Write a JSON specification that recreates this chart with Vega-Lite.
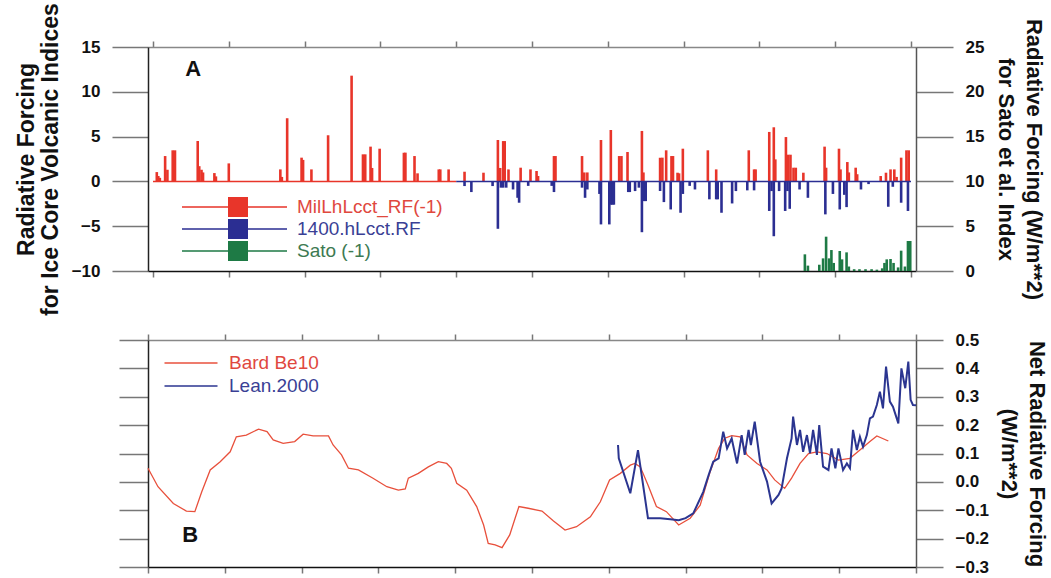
{
  "$schema": "https://vega.github.io/schema/vega-lite/v6.json",
  "autosize": "none",
  "padding": {"left": 148, "top": 47, "right": 903, "bottom": 531},
  "background": "white",
  "bounds": "flush",
  "spacing": 69,
  "config": {
    "font": "Liberation Sans",
    "view": {"stroke": null},
    "axis": {
      "grid": false,
      "labelFont": "Liberation Sans",
      "labelFontSize": 17,
      "labelFontWeight": "bold",
      "labelColor": "#111",
      "titleFont": "Liberation Sans",
      "titleFontSize": 22,
      "titleFontWeight": "bold",
      "titleColor": "#111",
      "tickColor": "#777",
      "domainColor": "#222",
      "tickWidth": 1.5,
      "domainWidth": 1.5
    }
  },
  "resolve": {"scale": {"color": "independent"}},
  "vconcat": [
    {
      "width": 768,
      "height": 224,
      "layer": [
        {
          "data": {
            "values": [
              {"year": 1005, "value": 1.04, "series": "MilLhLcct_RF(-1)"},
              {"year": 1007, "value": 0.6, "series": "MilLhLcct_RF(-1)"},
              {"year": 1009, "value": 0.4, "series": "MilLhLcct_RF(-1)"},
              {"year": 1016, "value": 2.83, "series": "MilLhLcct_RF(-1)"},
              {"year": 1019, "value": 1.3, "series": "MilLhLcct_RF(-1)"},
              {"year": 1026, "value": 3.47, "series": "MilLhLcct_RF(-1)"},
              {"year": 1029, "value": 3.47, "series": "MilLhLcct_RF(-1)"},
              {"year": 1059, "value": 4.51, "series": "MilLhLcct_RF(-1)"},
              {"year": 1061, "value": 1.7, "series": "MilLhLcct_RF(-1)"},
              {"year": 1064, "value": 1.3, "series": "MilLhLcct_RF(-1)"},
              {"year": 1066, "value": 1.0, "series": "MilLhLcct_RF(-1)"},
              {"year": 1081, "value": 0.93, "series": "MilLhLcct_RF(-1)"},
              {"year": 1083, "value": 0.56, "series": "MilLhLcct_RF(-1)"},
              {"year": 1100, "value": 2.01, "series": "MilLhLcct_RF(-1)"},
              {"year": 1168, "value": 1.34, "series": "MilLhLcct_RF(-1)"},
              {"year": 1170, "value": 0.5, "series": "MilLhLcct_RF(-1)"},
              {"year": 1177, "value": 7.05, "series": "MilLhLcct_RF(-1)"},
              {"year": 1196, "value": 2.65, "series": "MilLhLcct_RF(-1)"},
              {"year": 1198, "value": 2.4, "series": "MilLhLcct_RF(-1)"},
              {"year": 1209, "value": 1.34, "series": "MilLhLcct_RF(-1)"},
              {"year": 1231, "value": 5.15, "series": "MilLhLcct_RF(-1)"},
              {"year": 1262, "value": 11.8, "series": "MilLhLcct_RF(-1)"},
              {"year": 1277, "value": 3.02, "series": "MilLhLcct_RF(-1)"},
              {"year": 1280, "value": 3.02, "series": "MilLhLcct_RF(-1)"},
              {"year": 1287, "value": 3.88, "series": "MilLhLcct_RF(-1)"},
              {"year": 1289, "value": 1.5, "series": "MilLhLcct_RF(-1)"},
              {"year": 1299, "value": 3.65, "series": "MilLhLcct_RF(-1)"},
              {"year": 1331, "value": 3.21, "series": "MilLhLcct_RF(-1)"},
              {"year": 1333, "value": 3.21, "series": "MilLhLcct_RF(-1)"},
              {"year": 1345, "value": 2.83, "series": "MilLhLcct_RF(-1)"},
              {"year": 1349, "value": 0.9, "series": "MilLhLcct_RF(-1)"},
              {"year": 1377, "value": 1.34, "series": "MilLhLcct_RF(-1)"},
              {"year": 1379, "value": 1.34, "series": "MilLhLcct_RF(-1)"},
              {"year": 1390, "value": 1.34, "series": "MilLhLcct_RF(-1)"},
              {"year": 1411, "value": 1.08, "series": "MilLhLcct_RF(-1)"},
              {"year": 1436, "value": 0.97, "series": "MilLhLcct_RF(-1)"},
              {"year": 1455, "value": 4.62, "series": "MilLhLcct_RF(-1)"},
              {"year": 1458, "value": 1.5, "series": "MilLhLcct_RF(-1)"},
              {"year": 1462, "value": 4.5, "series": "MilLhLcct_RF(-1)"},
              {"year": 1464, "value": 4.5, "series": "MilLhLcct_RF(-1)"},
              {"year": 1469, "value": 1.34, "series": "MilLhLcct_RF(-1)"},
              {"year": 1485, "value": 1.53, "series": "MilLhLcct_RF(-1)"},
              {"year": 1498, "value": 1.34, "series": "MilLhLcct_RF(-1)"},
              {"year": 1506, "value": 1.16, "series": "MilLhLcct_RF(-1)"},
              {"year": 1508, "value": 0.6, "series": "MilLhLcct_RF(-1)"},
              {"year": 1529, "value": 2.83, "series": "MilLhLcct_RF(-1)"},
              {"year": 1531, "value": 2.83, "series": "MilLhLcct_RF(-1)"},
              {"year": 1566, "value": 2.83, "series": "MilLhLcct_RF(-1)"},
              {"year": 1569, "value": 1.0, "series": "MilLhLcct_RF(-1)"},
              {"year": 1573, "value": 1.0, "series": "MilLhLcct_RF(-1)"},
              {"year": 1591, "value": 4.62, "series": "MilLhLcct_RF(-1)"},
              {"year": 1604, "value": 5.74, "series": "MilLhLcct_RF(-1)"},
              {"year": 1615, "value": 2.83, "series": "MilLhLcct_RF(-1)"},
              {"year": 1618, "value": 2.83, "series": "MilLhLcct_RF(-1)"},
              {"year": 1626, "value": 3.28, "series": "MilLhLcct_RF(-1)"},
              {"year": 1645, "value": 5.63, "series": "MilLhLcct_RF(-1)"},
              {"year": 1647, "value": 1.0, "series": "MilLhLcct_RF(-1)"},
              {"year": 1669, "value": 2.65, "series": "MilLhLcct_RF(-1)"},
              {"year": 1672, "value": 2.65, "series": "MilLhLcct_RF(-1)"},
              {"year": 1677, "value": 3.47, "series": "MilLhLcct_RF(-1)"},
              {"year": 1684, "value": 2.83, "series": "MilLhLcct_RF(-1)"},
              {"year": 1686, "value": 2.83, "series": "MilLhLcct_RF(-1)"},
              {"year": 1692, "value": 0.97, "series": "MilLhLcct_RF(-1)"},
              {"year": 1694, "value": 0.9, "series": "MilLhLcct_RF(-1)"},
              {"year": 1699, "value": 3.65, "series": "MilLhLcct_RF(-1)"},
              {"year": 1732, "value": 3.47, "series": "MilLhLcct_RF(-1)"},
              {"year": 1743, "value": 1.34, "series": "MilLhLcct_RF(-1)"},
              {"year": 1786, "value": 3.47, "series": "MilLhLcct_RF(-1)"},
              {"year": 1793, "value": 1.34, "series": "MilLhLcct_RF(-1)"},
              {"year": 1795, "value": 1.34, "series": "MilLhLcct_RF(-1)"},
              {"year": 1813, "value": 5.52, "series": "MilLhLcct_RF(-1)"},
              {"year": 1819, "value": 6.04, "series": "MilLhLcct_RF(-1)"},
              {"year": 1821, "value": 2.46, "series": "MilLhLcct_RF(-1)"},
              {"year": 1835, "value": 4.95, "series": "MilLhLcct_RF(-1)"},
              {"year": 1838, "value": 2.98, "series": "MilLhLcct_RF(-1)"},
              {"year": 1841, "value": 2.98, "series": "MilLhLcct_RF(-1)"},
              {"year": 1845, "value": 1.53, "series": "MilLhLcct_RF(-1)"},
              {"year": 1848, "value": 1.53, "series": "MilLhLcct_RF(-1)"},
              {"year": 1858, "value": 0.97, "series": "MilLhLcct_RF(-1)"},
              {"year": 1886, "value": 3.88, "series": "MilLhLcct_RF(-1)"},
              {"year": 1888, "value": 1.53, "series": "MilLhLcct_RF(-1)"},
              {"year": 1905, "value": 3.65, "series": "MilLhLcct_RF(-1)"},
              {"year": 1907, "value": 1.34, "series": "MilLhLcct_RF(-1)"},
              {"year": 1916, "value": 2.16, "series": "MilLhLcct_RF(-1)"},
              {"year": 1918, "value": 1.0, "series": "MilLhLcct_RF(-1)"},
              {"year": 1927, "value": 1.53, "series": "MilLhLcct_RF(-1)"},
              {"year": 1929, "value": 0.8, "series": "MilLhLcct_RF(-1)"},
              {"year": 1960, "value": 0.6, "series": "MilLhLcct_RF(-1)"},
              {"year": 1967, "value": 0.97, "series": "MilLhLcct_RF(-1)"},
              {"year": 1973, "value": 1.34, "series": "MilLhLcct_RF(-1)"},
              {"year": 1978, "value": 1.34, "series": "MilLhLcct_RF(-1)"},
              {"year": 1981, "value": 0.5, "series": "MilLhLcct_RF(-1)"},
              {"year": 1987, "value": 2.65, "series": "MilLhLcct_RF(-1)"},
              {"year": 1994, "value": 3.47, "series": "MilLhLcct_RF(-1)"},
              {"year": 1997, "value": 3.47, "series": "MilLhLcct_RF(-1)"},
              {"year": 1411, "value": -0.52, "series": "1400.hLcct.RF"},
              {"year": 1420, "value": -1.19, "series": "1400.hLcct.RF"},
              {"year": 1448, "value": -0.52, "series": "1400.hLcct.RF"},
              {"year": 1455, "value": -5.29, "series": "1400.hLcct.RF"},
              {"year": 1459, "value": -0.7, "series": "1400.hLcct.RF"},
              {"year": 1462, "value": -0.7, "series": "1400.hLcct.RF"},
              {"year": 1466, "value": -0.7, "series": "1400.hLcct.RF"},
              {"year": 1475, "value": -0.9, "series": "1400.hLcct.RF"},
              {"year": 1481, "value": -1.83, "series": "1400.hLcct.RF"},
              {"year": 1483, "value": -2.38, "series": "1400.hLcct.RF"},
              {"year": 1495, "value": -0.5, "series": "1400.hLcct.RF"},
              {"year": 1526, "value": -0.5, "series": "1400.hLcct.RF"},
              {"year": 1529, "value": -1.19, "series": "1400.hLcct.RF"},
              {"year": 1566, "value": -0.7, "series": "1400.hLcct.RF"},
              {"year": 1570, "value": -1.83, "series": "1400.hLcct.RF"},
              {"year": 1573, "value": -0.9, "series": "1400.hLcct.RF"},
              {"year": 1589, "value": -1.4, "series": "1400.hLcct.RF"},
              {"year": 1591, "value": -4.8, "series": "1400.hLcct.RF"},
              {"year": 1602, "value": -4.8, "series": "1400.hLcct.RF"},
              {"year": 1604, "value": -2.6, "series": "1400.hLcct.RF"},
              {"year": 1606, "value": -2.6, "series": "1400.hLcct.RF"},
              {"year": 1608, "value": -2.6, "series": "1400.hLcct.RF"},
              {"year": 1627, "value": -1.19, "series": "1400.hLcct.RF"},
              {"year": 1629, "value": -1.19, "series": "1400.hLcct.RF"},
              {"year": 1636, "value": -1.08, "series": "1400.hLcct.RF"},
              {"year": 1641, "value": -0.7, "series": "1400.hLcct.RF"},
              {"year": 1645, "value": -5.67, "series": "1400.hLcct.RF"},
              {"year": 1648, "value": -2.2, "series": "1400.hLcct.RF"},
              {"year": 1650, "value": -2.2, "series": "1400.hLcct.RF"},
              {"year": 1669, "value": -1.08, "series": "1400.hLcct.RF"},
              {"year": 1674, "value": -2.31, "series": "1400.hLcct.RF"},
              {"year": 1683, "value": -3.13, "series": "1400.hLcct.RF"},
              {"year": 1696, "value": -3.5, "series": "1400.hLcct.RF"},
              {"year": 1699, "value": -1.4, "series": "1400.hLcct.RF"},
              {"year": 1708, "value": -0.5, "series": "1400.hLcct.RF"},
              {"year": 1715, "value": -0.9, "series": "1400.hLcct.RF"},
              {"year": 1734, "value": -2.0, "series": "1400.hLcct.RF"},
              {"year": 1743, "value": -2.0, "series": "1400.hLcct.RF"},
              {"year": 1745, "value": -2.0, "series": "1400.hLcct.RF"},
              {"year": 1750, "value": -3.5, "series": "1400.hLcct.RF"},
              {"year": 1764, "value": -2.46, "series": "1400.hLcct.RF"},
              {"year": 1769, "value": -1.08, "series": "1400.hLcct.RF"},
              {"year": 1784, "value": -1.0, "series": "1400.hLcct.RF"},
              {"year": 1793, "value": -1.0, "series": "1400.hLcct.RF"},
              {"year": 1813, "value": -3.3, "series": "1400.hLcct.RF"},
              {"year": 1816, "value": -1.08, "series": "1400.hLcct.RF"},
              {"year": 1819, "value": -6.12, "series": "1400.hLcct.RF"},
              {"year": 1826, "value": -1.08, "series": "1400.hLcct.RF"},
              {"year": 1834, "value": -3.3, "series": "1400.hLcct.RF"},
              {"year": 1837, "value": -1.08, "series": "1400.hLcct.RF"},
              {"year": 1840, "value": -3.06, "series": "1400.hLcct.RF"},
              {"year": 1853, "value": -0.9, "series": "1400.hLcct.RF"},
              {"year": 1864, "value": -1.83, "series": "1400.hLcct.RF"},
              {"year": 1887, "value": -3.68, "series": "1400.hLcct.RF"},
              {"year": 1897, "value": -1.4, "series": "1400.hLcct.RF"},
              {"year": 1906, "value": -3.13, "series": "1400.hLcct.RF"},
              {"year": 1912, "value": -1.5, "series": "1400.hLcct.RF"},
              {"year": 1915, "value": -2.87, "series": "1400.hLcct.RF"},
              {"year": 1934, "value": -0.9, "series": "1400.hLcct.RF"},
              {"year": 1944, "value": -0.3, "series": "1400.hLcct.RF"},
              {"year": 1970, "value": -2.83, "series": "1400.hLcct.RF"},
              {"year": 1976, "value": -0.6, "series": "1400.hLcct.RF"},
              {"year": 1987, "value": -2.38, "series": "1400.hLcct.RF"},
              {"year": 1996, "value": -3.3, "series": "1400.hLcct.RF"}
            ]
          },
          "mark": {"type": "bar", "width": 2.6},
          "encoding": {
            "x": {
              "field": "year", "type": "quantitative",
              "scale": {"domain": [1000, 2000], "nice": false, "zero": false},
              "axis": {"orient": "bottom", "values": [1000, 1100, 1200, 1300, 1400, 1500, 1600, 1700, 1800, 1900, 2000], "labels": false, "title": null, "tickSize": 6, "domainColor": "#111"}
            },
            "y": {
              "field": "value", "type": "quantitative",
              "scale": {"domain": [-10, 15], "nice": false},
              "axis": {"orient": "left", "values": [-10, -5, 0, 5, 10, 15], "tickSize": 36, "labelPadding": 12, "title": ["Radiative Forcing", "for Ice Core Volcanic Indices"], "titleFontSize": 23, "titlePadding": 9, "titleLineHeight": 24}
            },
            "color": {
              "field": "series", "type": "nominal",
              "scale": {"domain": ["MilLhLcct_RF(-1)", "1400.hLcct.RF", "Sato (-1)"], "range": ["#e8352a", "#2b2e92", "#1e7a45"]},
              "legend": {
                "title": null, "orient": "none", "legendX": 80, "legendY": 150, "padding": 0,
                "symbolType": "M-5.6,-0.08H4.9V0.08H-5.6Z M-1,-1H1V1H-1Z",
                "symbolSize": 400, "symbolStrokeWidth": 0, "symbolOpacity": 1,
                "labelOffset": 49, "rowPadding": 2, "labelFont": "Liberation Sans", "labelFontSize": 19,
                "encode": {"labels": {"update": {"fill": {"signal": "datum.value === 'Sato (-1)' ? '#3d7a52' : datum.value === '1400.hLcct.RF' ? '#3a3f95' : '#e0483e'"}}}}
              }
            }
          }
        },
        {
          "data": {
            "values": [
              {"start": 1000, "end": 1400, "series": "MilLhLcct_RF(-1)"},
              {"start": 1400, "end": 2000, "series": "1400.hLcct.RF"}
            ]
          },
          "mark": {"type": "rule", "strokeWidth": 1.5},
          "encoding": {
            "x": {"field": "start", "type": "quantitative", "scale": {"domain": [1000, 2000], "nice": false, "zero": false}, "axis": null},
            "x2": {"field": "end"},
            "y": {"datum": 0, "type": "quantitative", "scale": {"domain": [-10, 15], "nice": false}, "axis": null},
            "color": {"field": "series", "type": "nominal", "scale": {"domain": ["MilLhLcct_RF(-1)", "1400.hLcct.RF", "Sato (-1)"], "range": ["#e8352a", "#2b2e92", "#1e7a45"]}, "legend": null}
          }
        },
        {
          "data": {"values": [{"label": "A"}]},
          "mark": {"type": "text", "font": "Liberation Sans", "fontSize": 22, "fontWeight": "bold", "color": "#111"},
          "encoding": {
            "text": {"field": "label"},
            "x": {
              "datum": 1053, "type": "quantitative",
              "scale": {"domain": [1000, 2000], "nice": false, "zero": false},
              "axis": {"orient": "top", "values": [1000, 1100, 1200, 1300, 1400, 1500, 1600, 1700, 1800, 1900, 2000], "labels": false, "title": null, "tickSize": 6, "domainColor": "#888"}
            },
            "y": {"datum": 12.5, "type": "quantitative", "scale": {"domain": [-10, 15], "nice": false}, "axis": null}
          }
        },
        {
          "data": {
            "values": [
              {"year": 1860, "value": 1.86, "series": "Sato (-1)"},
              {"year": 1864, "value": 0.6, "series": "Sato (-1)"},
              {"year": 1879, "value": 0.7, "series": "Sato (-1)"},
              {"year": 1884, "value": 1.41, "series": "Sato (-1)"},
              {"year": 1888, "value": 3.83, "series": "Sato (-1)"},
              {"year": 1892, "value": 1.41, "series": "Sato (-1)"},
              {"year": 1895, "value": 2.34, "series": "Sato (-1)"},
              {"year": 1898, "value": 0.9, "series": "Sato (-1)"},
              {"year": 1906, "value": 2.23, "series": "Sato (-1)"},
              {"year": 1909, "value": 1.3, "series": "Sato (-1)"},
              {"year": 1915, "value": 2.08, "series": "Sato (-1)"},
              {"year": 1918, "value": 0.5, "series": "Sato (-1)"},
              {"year": 1925, "value": 0.2, "series": "Sato (-1)"},
              {"year": 1932, "value": 0.2, "series": "Sato (-1)"},
              {"year": 1940, "value": 0.2, "series": "Sato (-1)"},
              {"year": 1948, "value": 0.2, "series": "Sato (-1)"},
              {"year": 1955, "value": 0.15, "series": "Sato (-1)"},
              {"year": 1962, "value": 0.3, "series": "Sato (-1)"},
              {"year": 1965, "value": 0.9, "series": "Sato (-1)"},
              {"year": 1968, "value": 1.3, "series": "Sato (-1)"},
              {"year": 1973, "value": 1.34, "series": "Sato (-1)"},
              {"year": 1977, "value": 0.9, "series": "Sato (-1)"},
              {"year": 1983, "value": 0.4, "series": "Sato (-1)"},
              {"year": 1987, "value": 2.27, "series": "Sato (-1)"},
              {"year": 1992, "value": 0.5, "series": "Sato (-1)"},
              {"year": 1996, "value": 3.35, "series": "Sato (-1)"},
              {"year": 1999, "value": 3.35, "series": "Sato (-1)"}
            ]
          },
          "mark": {"type": "bar", "width": 2.6},
          "encoding": {
            "x": {"field": "year", "type": "quantitative", "scale": {"domain": [1000, 2000], "nice": false, "zero": false}, "axis": null},
            "y": {
              "field": "value", "type": "quantitative",
              "scale": {"domain": [0, 25], "nice": false},
              "axis": {"orient": "right", "values": [0, 5, 10, 15, 20, 25], "tickSize": 37, "labelPadding": 12, "title": ["Radiative Forcing (W/m**2)", "for Sato et al. Index"], "titlePadding": 10, "titleLineHeight": 28, "domainColor": "#555"}
            },
            "color": {"field": "series", "type": "nominal", "scale": {"domain": ["MilLhLcct_RF(-1)", "1400.hLcct.RF", "Sato (-1)"], "range": ["#e8352a", "#2b2e92", "#1e7a45"]}, "legend": null}
          }
        }
      ],
      "resolve": {"scale": {"y": "independent"}, "axis": {"x": "independent", "y": "independent"}}
    },
    {
      "width": 768,
      "height": 227,
      "layer": [
        {
          "data": {
            "values": [
              {"year": 1000, "value": 0.048, "series": "Bard Be10"},
              {"year": 1013, "value": -0.017, "series": "Bard Be10"},
              {"year": 1033, "value": -0.076, "series": "Bard Be10"},
              {"year": 1050, "value": -0.103, "series": "Bard Be10"},
              {"year": 1061, "value": -0.105, "series": "Bard Be10"},
              {"year": 1070, "value": -0.035, "series": "Bard Be10"},
              {"year": 1081, "value": 0.042, "series": "Bard Be10"},
              {"year": 1094, "value": 0.071, "series": "Bard Be10"},
              {"year": 1107, "value": 0.106, "series": "Bard Be10"},
              {"year": 1115, "value": 0.159, "series": "Bard Be10"},
              {"year": 1128, "value": 0.165, "series": "Bard Be10"},
              {"year": 1144, "value": 0.186, "series": "Bard Be10"},
              {"year": 1155, "value": 0.177, "series": "Bard Be10"},
              {"year": 1163, "value": 0.148, "series": "Bard Be10"},
              {"year": 1176, "value": 0.136, "series": "Bard Be10"},
              {"year": 1191, "value": 0.142, "series": "Bard Be10"},
              {"year": 1202, "value": 0.168, "series": "Bard Be10"},
              {"year": 1215, "value": 0.162, "series": "Bard Be10"},
              {"year": 1235, "value": 0.162, "series": "Bard Be10"},
              {"year": 1241, "value": 0.13, "series": "Bard Be10"},
              {"year": 1252, "value": 0.095, "series": "Bard Be10"},
              {"year": 1261, "value": 0.048, "series": "Bard Be10"},
              {"year": 1274, "value": 0.042, "series": "Bard Be10"},
              {"year": 1293, "value": 0.013, "series": "Bard Be10"},
              {"year": 1311, "value": -0.017, "series": "Bard Be10"},
              {"year": 1326, "value": -0.029, "series": "Bard Be10"},
              {"year": 1335, "value": -0.025, "series": "Bard Be10"},
              {"year": 1339, "value": 0.013, "series": "Bard Be10"},
              {"year": 1352, "value": 0.03, "series": "Bard Be10"},
              {"year": 1365, "value": 0.053, "series": "Bard Be10"},
              {"year": 1378, "value": 0.071, "series": "Bard Be10"},
              {"year": 1389, "value": 0.065, "series": "Bard Be10"},
              {"year": 1395, "value": 0.048, "series": "Bard Be10"},
              {"year": 1402, "value": -0.005, "series": "Bard Be10"},
              {"year": 1415, "value": -0.029, "series": "Bard Be10"},
              {"year": 1428, "value": -0.087, "series": "Bard Be10"},
              {"year": 1437, "value": -0.152, "series": "Bard Be10"},
              {"year": 1443, "value": -0.217, "series": "Bard Be10"},
              {"year": 1452, "value": -0.222, "series": "Bard Be10"},
              {"year": 1461, "value": -0.232, "series": "Bard Be10"},
              {"year": 1471, "value": -0.187, "series": "Bard Be10"},
              {"year": 1478, "value": -0.128, "series": "Bard Be10"},
              {"year": 1483, "value": -0.087, "series": "Bard Be10"},
              {"year": 1495, "value": -0.093, "series": "Bard Be10"},
              {"year": 1513, "value": -0.103, "series": "Bard Be10"},
              {"year": 1528, "value": -0.138, "series": "Bard Be10"},
              {"year": 1543, "value": -0.17, "series": "Bard Be10"},
              {"year": 1558, "value": -0.158, "series": "Bard Be10"},
              {"year": 1576, "value": -0.123, "series": "Bard Be10"},
              {"year": 1589, "value": -0.07, "series": "Bard Be10"},
              {"year": 1601, "value": 0.007, "series": "Bard Be10"},
              {"year": 1615, "value": 0.03, "series": "Bard Be10"},
              {"year": 1628, "value": 0.059, "series": "Bard Be10"},
              {"year": 1634, "value": 0.065, "series": "Bard Be10"},
              {"year": 1641, "value": 0.053, "series": "Bard Be10"},
              {"year": 1651, "value": -0.011, "series": "Bard Be10"},
              {"year": 1662, "value": -0.087, "series": "Bard Be10"},
              {"year": 1675, "value": -0.105, "series": "Bard Be10"},
              {"year": 1691, "value": -0.152, "series": "Bard Be10"},
              {"year": 1706, "value": -0.128, "series": "Bard Be10"},
              {"year": 1719, "value": -0.082, "series": "Bard Be10"},
              {"year": 1732, "value": 0.036, "series": "Bard Be10"},
              {"year": 1743, "value": 0.118, "series": "Bard Be10"},
              {"year": 1751, "value": 0.154, "series": "Bard Be10"},
              {"year": 1760, "value": 0.163, "series": "Bard Be10"},
              {"year": 1771, "value": 0.159, "series": "Bard Be10"},
              {"year": 1780, "value": 0.095, "series": "Bard Be10"},
              {"year": 1793, "value": 0.065, "series": "Bard Be10"},
              {"year": 1806, "value": 0.042, "series": "Bard Be10"},
              {"year": 1816, "value": 0.007, "series": "Bard Be10"},
              {"year": 1829, "value": -0.023, "series": "Bard Be10"},
              {"year": 1838, "value": 0.013, "series": "Bard Be10"},
              {"year": 1849, "value": 0.065, "series": "Bard Be10"},
              {"year": 1860, "value": 0.1, "series": "Bard Be10"},
              {"year": 1871, "value": 0.106, "series": "Bard Be10"},
              {"year": 1884, "value": 0.1, "series": "Bard Be10"},
              {"year": 1899, "value": 0.077, "series": "Bard Be10"},
              {"year": 1914, "value": 0.083, "series": "Bard Be10"},
              {"year": 1927, "value": 0.112, "series": "Bard Be10"},
              {"year": 1940, "value": 0.142, "series": "Bard Be10"},
              {"year": 1949, "value": 0.162, "series": "Bard Be10"},
              {"year": 1964, "value": 0.144, "series": "Bard Be10"},
              {"year": 1612, "value": 0.13, "series": "Lean.2000"},
              {"year": 1613, "value": 0.083, "series": "Lean.2000"},
              {"year": 1628, "value": -0.04, "series": "Lean.2000"},
              {"year": 1638, "value": 0.112, "series": "Lean.2000"},
              {"year": 1651, "value": -0.128, "series": "Lean.2000"},
              {"year": 1667, "value": -0.128, "series": "Lean.2000"},
              {"year": 1680, "value": -0.132, "series": "Lean.2000"},
              {"year": 1691, "value": -0.135, "series": "Lean.2000"},
              {"year": 1700, "value": -0.128, "series": "Lean.2000"},
              {"year": 1710, "value": -0.111, "series": "Lean.2000"},
              {"year": 1723, "value": -0.035, "series": "Lean.2000"},
              {"year": 1730, "value": 0.024, "series": "Lean.2000"},
              {"year": 1736, "value": 0.071, "series": "Lean.2000"},
              {"year": 1743, "value": 0.083, "series": "Lean.2000"},
              {"year": 1749, "value": 0.177, "series": "Lean.2000"},
              {"year": 1754, "value": 0.118, "series": "Lean.2000"},
              {"year": 1760, "value": 0.153, "series": "Lean.2000"},
              {"year": 1767, "value": 0.065, "series": "Lean.2000"},
              {"year": 1773, "value": 0.165, "series": "Lean.2000"},
              {"year": 1777, "value": 0.095, "series": "Lean.2000"},
              {"year": 1782, "value": 0.183, "series": "Lean.2000"},
              {"year": 1785, "value": 0.13, "series": "Lean.2000"},
              {"year": 1790, "value": 0.212, "series": "Lean.2000"},
              {"year": 1797, "value": 0.071, "series": "Lean.2000"},
              {"year": 1806, "value": 0.001, "series": "Lean.2000"},
              {"year": 1812, "value": -0.076, "series": "Lean.2000"},
              {"year": 1821, "value": -0.046, "series": "Lean.2000"},
              {"year": 1825, "value": -0.023, "series": "Lean.2000"},
              {"year": 1832, "value": 0.083, "series": "Lean.2000"},
              {"year": 1838, "value": 0.153, "series": "Lean.2000"},
              {"year": 1840, "value": 0.23, "series": "Lean.2000"},
              {"year": 1845, "value": 0.13, "series": "Lean.2000"},
              {"year": 1849, "value": 0.183, "series": "Lean.2000"},
              {"year": 1853, "value": 0.106, "series": "Lean.2000"},
              {"year": 1858, "value": 0.165, "series": "Lean.2000"},
              {"year": 1862, "value": 0.101, "series": "Lean.2000"},
              {"year": 1866, "value": 0.183, "series": "Lean.2000"},
              {"year": 1871, "value": 0.095, "series": "Lean.2000"},
              {"year": 1874, "value": 0.2, "series": "Lean.2000"},
              {"year": 1879, "value": 0.054, "series": "Lean.2000"},
              {"year": 1886, "value": 0.042, "series": "Lean.2000"},
              {"year": 1890, "value": 0.118, "series": "Lean.2000"},
              {"year": 1895, "value": 0.048, "series": "Lean.2000"},
              {"year": 1899, "value": 0.118, "series": "Lean.2000"},
              {"year": 1905, "value": 0.042, "series": "Lean.2000"},
              {"year": 1910, "value": 0.065, "series": "Lean.2000"},
              {"year": 1914, "value": 0.048, "series": "Lean.2000"},
              {"year": 1918, "value": 0.183, "series": "Lean.2000"},
              {"year": 1923, "value": 0.112, "series": "Lean.2000"},
              {"year": 1927, "value": 0.159, "series": "Lean.2000"},
              {"year": 1931, "value": 0.124, "series": "Lean.2000"},
              {"year": 1936, "value": 0.165, "series": "Lean.2000"},
              {"year": 1940, "value": 0.224, "series": "Lean.2000"},
              {"year": 1944, "value": 0.23, "series": "Lean.2000"},
              {"year": 1949, "value": 0.271, "series": "Lean.2000"},
              {"year": 1953, "value": 0.318, "series": "Lean.2000"},
              {"year": 1957, "value": 0.259, "series": "Lean.2000"},
              {"year": 1961, "value": 0.406, "series": "Lean.2000"},
              {"year": 1966, "value": 0.283, "series": "Lean.2000"},
              {"year": 1970, "value": 0.265, "series": "Lean.2000"},
              {"year": 1977, "value": 0.206, "series": "Lean.2000"},
              {"year": 1981, "value": 0.4, "series": "Lean.2000"},
              {"year": 1986, "value": 0.33, "series": "Lean.2000"},
              {"year": 1990, "value": 0.424, "series": "Lean.2000"},
              {"year": 1993, "value": 0.289, "series": "Lean.2000"},
              {"year": 1996, "value": 0.271, "series": "Lean.2000"},
              {"year": 2000, "value": 0.27, "series": "Lean.2000"}
            ]
          },
          "mark": {"type": "line"},
          "encoding": {
            "x": {
              "field": "year", "type": "quantitative",
              "scale": {"domain": [1000, 2000], "nice": false, "zero": false},
              "axis": {"orient": "bottom", "values": [1000, 1100, 1200, 1300, 1400, 1500, 1600, 1700, 1800, 1900, 2000], "labels": false, "title": null, "tickSize": 6, "domainColor": "#111"}
            },
            "y": {
              "field": "value", "type": "quantitative",
              "scale": {"domain": [-0.3, 0.5], "nice": false, "zero": false},
              "axis": {"orient": "left", "values": [-0.3, -0.2, -0.1, 0, 0.1, 0.2, 0.3, 0.4, 0.5], "labels": false, "title": null, "tickSize": 29}
            },
            "strokeWidth": {
              "field": "series", "type": "nominal",
              "scale": {"domain": ["Bard Be10", "Lean.2000"], "range": [1.3, 2]},
              "legend": null
            },
            "color": {
              "field": "series", "type": "nominal",
              "scale": {"domain": ["Bard Be10", "Lean.2000"], "range": ["#e8503c", "#2b3590"]},
              "legend": {
                "title": null, "orient": "none", "legendX": 32, "legendY": 12, "padding": 0,
                "symbolType": "M-2.65,0H2.65", "symbolSize": 400, "symbolStrokeWidth": 1.5,
                "labelOffset": 27, "rowPadding": 2, "labelFont": "Liberation Sans", "labelFontSize": 19,
                "encode": {"labels": {"update": {"fill": {"signal": "datum.value === 'Lean.2000' ? '#3a3f95' : '#e0483e'"}}}}
              }
            }
          }
        },
        {
          "data": {"values": [{"label": "B"}]},
          "mark": {"type": "text", "font": "Liberation Sans", "fontSize": 22, "fontWeight": "bold", "color": "#111"},
          "encoding": {
            "text": {"field": "label"},
            "x": {
              "datum": 1055, "type": "quantitative",
              "scale": {"domain": [1000, 2000], "nice": false, "zero": false},
              "axis": {"orient": "top", "values": [1000, 1100, 1200, 1300, 1400, 1500, 1600, 1700, 1800, 1900, 2000], "labels": false, "title": null, "tickSize": 6, "domainColor": "#888"}
            },
            "y": {
              "datum": -0.187, "type": "quantitative",
              "scale": {"domain": [-0.3, 0.5], "nice": false, "zero": false},
              "axis": {"orient": "right", "values": [-0.3, -0.2, -0.1, 0, 0.1, 0.2, 0.3, 0.4, 0.5], "format": ".1f", "tickSize": 27, "labelPadding": 12, "title": ["Net Radiative Forcing", "(W/m**2)"], "titlePadding": 8, "titleLineHeight": 28, "domainColor": "#555"}
            }
          }
        }
      ],
      "resolve": {"axis": {"x": "independent", "y": "independent"}}
    }
  ]
}
